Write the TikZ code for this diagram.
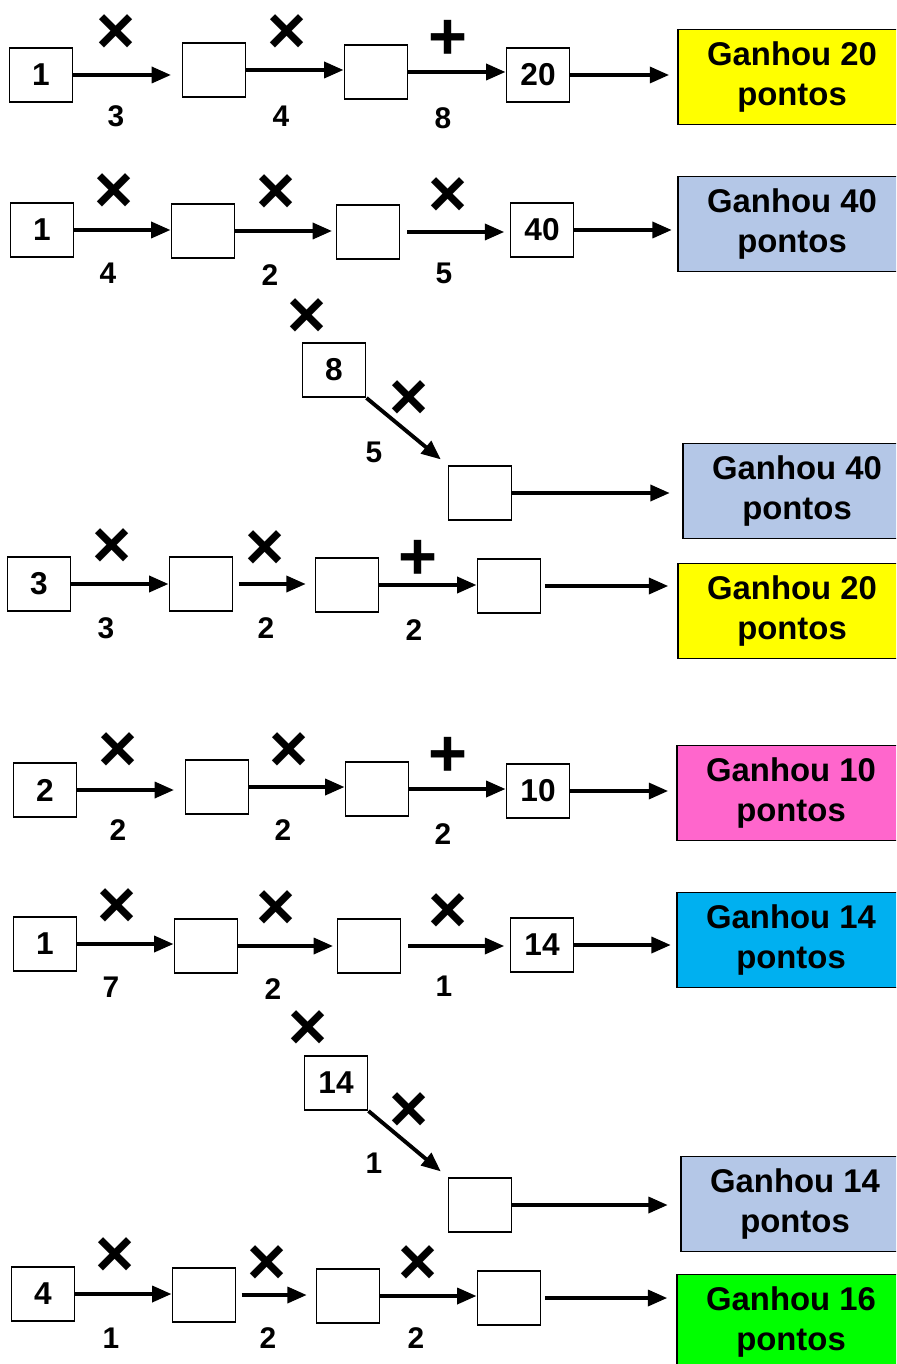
\documentclass[tikz,border=0pt]{standalone}
\usepackage{fontspec}
\setmainfont{Liberation Sans}
\usetikzlibrary{arrows.meta}
\definecolor{prizeyellow}{HTML}{FFFF00}
\definecolor{prizeblue}{HTML}{B4C7E7}
\definecolor{prizepink}{HTML}{FF66CC}
\definecolor{prizecyan}{HTML}{00B0F0}
\definecolor{prizegreen}{HTML}{00FF00}

\begin{document}
\begin{tikzpicture}[x=0.02cm,y=-0.02cm,
  numbox/.style={draw,line width=1.1pt,minimum width=1.26cm,minimum height=1.08cm,inner sep=0pt,font=\fontsize{18}{18}\selectfont\bfseries},
  prize/.style={draw,line width=1.1pt,fill=#1,minimum width=4.56cm,minimum height=1.9cm,inner sep=0pt,align=center,font=\fontsize{18.7}{22.7}\selectfont\bfseries},
  op/.style={inner sep=0pt,font=\fontsize{38}{38}\selectfont\bfseries},
  val/.style={inner sep=0pt,font=\fontsize{17}{17}\selectfont\bfseries},
  link/.style={-{Triangle[length=11pt,width=9pt]},line width=2.2pt},
]
  \useasboundingbox (0,0) rectangle (896,1364);
  \clip (0,0) rectangle (896,1364);

  % row 1
  \node[numbox] (n11) at (41,75) {1};
  \node[numbox] (n12) at (214,70) {};
  \node[numbox] (n13) at (376,72) {};
  \node[numbox] (n14) at (538,75) {20};
  \node[prize=prizeyellow] (g1) at (792,77) {Ganhou 20\\pontos};
  \draw[link,shorten >=6pt] (n11) -- (n11 -| n12.west);
  \draw[link] (n12) -- (n12 -| n13.west);
  \draw[link] (n13) -- (n13 -| n14.west);
  \draw[link,shorten >=4.5pt] (n14) -- (n14 -| g1.west);
  \node[op] (o11) at (116,34) {×};
  \node[op] (o12) at (287,34) {×};
  \node[op] (o13) at (448,40) {+};
  \node[val] (v11) at (116,116) {3};
  \node[val] (v12) at (281,116) {4};
  \node[val] (v13) at (443,118) {8};

  % row 2
  \node[numbox] (n21) at (42,230) {1};
  \node[numbox] (n22) at (203,231) {};
  \node[numbox] (n23) at (368,232) {};
  \node[numbox] (n24) at (542,230) {40};
  \node[prize=prizeblue] (g2) at (792,224) {Ganhou 40\\pontos};
  \draw[link] (n21) -- (n21 -| n22.west);
  \draw[link,shorten >=2pt] (n22) -- (n22 -| n23.west);
  \draw[link,shorten <=4pt,shorten >=3pt] (n23) -- (n23 -| n24.west);
  \draw[link,shorten >=3pt] (n24) -- (n24 -| g2.west);
  \node[op] (o21) at (114,193) {×};
  \node[op] (o22) at (276,194) {×};
  \node[op] (o23) at (448,197) {×};
  \node[val] (v21) at (108,273) {4};
  \node[val] (v22) at (270,275) {2};
  \node[val] (v23) at (444,273) {5};

  % branch from row 2
  \node[op] (oa) at (307,318) {×};
  \node[numbox] (na) at (334,370) {8};
  \node[numbox] (nb) at (480,493) {};
  \node[prize=prizeblue] (g3) at (797,491) {Ganhou 40\\pontos};
  \draw[link,shorten >=5pt] (na.south east) -- (nb.north west);
  \draw[link,shorten >=7pt] (nb) -- (nb -| g3.west);
  \node[op] (ob) at (409,400) {×};
  \node[val] (va) at (374,452) {5};

  % row 3
  \node[numbox] (n31) at (39,584) {3};
  \node[numbox] (n32) at (201,584) {};
  \node[numbox] (n33) at (347,585) {};
  \node[numbox] (n34) at (509,586) {};
  \node[prize=prizeyellow] (g4) at (792,611) {Ganhou 20\\pontos};
  \draw[link] (n31) -- (n31 -| n32.west);
  \draw[link,shorten <=3pt,shorten >=5pt] (n32) -- (n32 -| n33.west);
  \draw[link] (n33) -- (n33 -| n34.west);
  \draw[link,shorten <=2pt,shorten >=5pt] (n34) -- (n34 -| g4.west);
  \node[op] (o31) at (112,548) {×};
  \node[op] (o32) at (265,550) {×};
  \node[op] (o33) at (418,560) {+};
  \node[val] (v31) at (106,628) {3};
  \node[val] (v32) at (266,628) {2};
  \node[val] (v33) at (414,630) {2};

  % row 4
  \node[numbox] (n41) at (45,790) {2};
  \node[numbox] (n42) at (217,787) {};
  \node[numbox] (n43) at (377,789) {};
  \node[numbox] (n44) at (538,791) {10};
  \node[prize=prizepink] (g5) at (791,793) {Ganhou 10\\pontos};
  \draw[link,shorten >=6pt] (n41) -- (n41 -| n42.west);
  \draw[link] (n42) -- (n42 -| n43.west);
  \draw[link] (n43) -- (n43 -| n44.west);
  \draw[link,shorten >=4.5pt] (n44) -- (n44 -| g5.west);
  \node[op] (o41) at (118,752) {×};
  \node[op] (o42) at (289,752) {×};
  \node[op] (o43) at (448,757) {+};
  \node[val] (v41) at (118,830) {2};
  \node[val] (v42) at (283,830) {2};
  \node[val] (v43) at (443,834) {2};

  % row 5
  \node[numbox] (n51) at (45,944) {1};
  \node[numbox] (n52) at (206,946) {};
  \node[numbox] (n53) at (369,946) {};
  \node[numbox] (n54) at (542,945) {14};
  \node[prize=prizecyan] (g6) at (791,940) {Ganhou 14\\pontos};
  \draw[link] (n51) -- (n51 -| n52.west);
  \draw[link,shorten >=2pt] (n52) -- (n52 -| n53.west);
  \draw[link,shorten <=4pt,shorten >=3pt] (n53) -- (n53 -| n54.west);
  \draw[link,shorten >=3pt] (n54) -- (n54 -| g6.west);
  \node[op] (o51) at (117,908) {×};
  \node[op] (o52) at (276,910) {×};
  \node[op] (o53) at (448,913) {×};
  \node[val] (v51) at (111,987) {7};
  \node[val] (v52) at (273,989) {2};
  \node[val] (v53) at (444,986) {1};

  % branch from row 5
  \node[op] (oc) at (308,1030) {×};
  \node[numbox] (nc) at (336,1083) {14};
  \node[numbox] (nd) at (480,1205) {};
  \node[prize=prizeblue] (g7) at (795,1204) {Ganhou 14\\pontos};
  \draw[link,shorten >=5pt] (nc.south east) -- (nd.north west);
  \draw[link,shorten >=7pt] (nd) -- (nd -| g7.west);
  \node[op] (od) at (409,1112) {×};
  \node[val] (vc) at (374,1163) {1};

  % row 6
  \node[numbox] (n61) at (43,1294) {4};
  \node[numbox] (n62) at (204,1295) {};
  \node[numbox] (n63) at (348,1296) {};
  \node[numbox] (n64) at (509,1298) {};
  \node[prize=prizegreen] (g8) at (791,1322) {Ganhou 16\\pontos};
  \draw[link] (n61) -- (n61 -| n62.west);
  \draw[link,shorten <=3pt,shorten >=5pt] (n62) -- (n62 -| n63.west);
  \draw[link] (n63) -- (n63 -| n64.west);
  \draw[link,shorten <=2pt,shorten >=5pt] (n64) -- (n64 -| g8.west);
  \node[op] (o61) at (115,1257) {×};
  \node[op] (o62) at (267,1265) {×};
  \node[op] (o63) at (418,1265) {×};
  \node[val] (v61) at (111,1338) {1};
  \node[val] (v62) at (268,1338) {2};
  \node[val] (v63) at (416,1338) {2};
\end{tikzpicture}
\end{document}
